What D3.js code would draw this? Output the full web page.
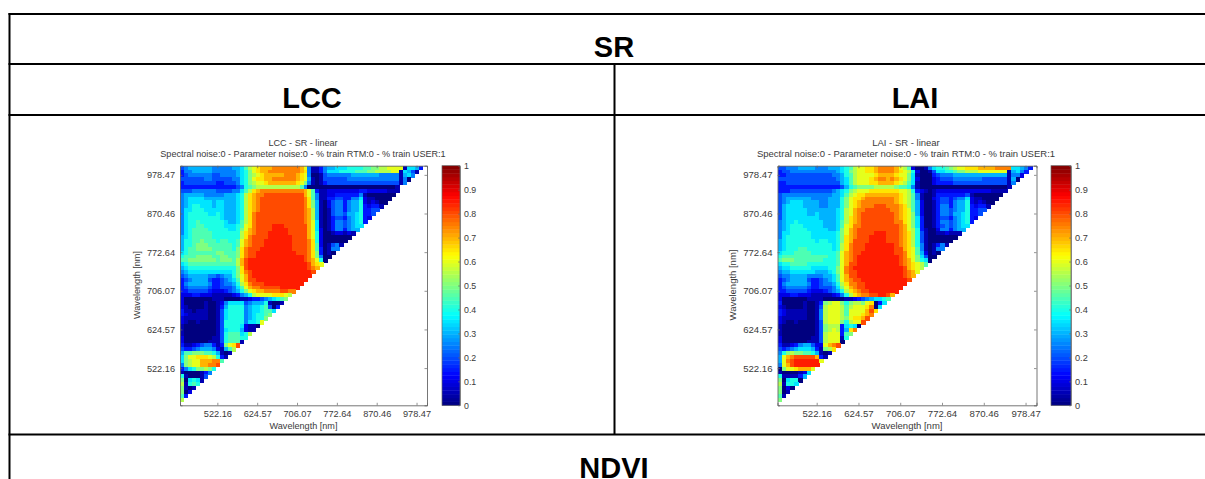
<!DOCTYPE html>
<html><head><meta charset="utf-8">
<script src="https://cdn.jsdelivr.net/npm/d3@7"></script>
<style>
html,body{margin:0;padding:0;background:#fff;overflow:hidden}
svg{display:block}
text{font-family:"Liberation Sans",Arial,sans-serif}
</style></head><body>
<svg id="c" width="1205" height="479"></svg>
<script>
// Wavelength tick labels sit on every tenth band of the 62-band matrix
const tickBands = [10, 20, 30, 40, 50, 60];
const tickLabels = ["522.16", "624.57", "706.07", "772.64", "870.46", "978.47"];
const colorbarTicks = [0, .1, .2, .3, .4, .5, .6, .7, .8, .9, 1];
const jetStops = [0, .125, .375, .625, .875, 1];
const jetColors = ["#00007f", "#0000ff", "#00ffff", "#ffff00", "#ff0000", "#7f0000"];
const sectionTitles = ["SR", "LCC", "LAI", "NDVI"];
// Rows run top to bottom, each char = R2 in steps of 0.05 (base 36: 0=0, a=.5, k=1)
const lccRows = [
"4566666655 5556679bcd eeefffffff ec51135667 7788889 9aa bbcccc1776 33",
"3556666655 5555678acd eeffffffff ed51135777 8888999aab bbbcc17641",
"3455555544 5555678abc deeeeefffe dc50014555 5556666666 55555 1675",
"4444445544 4445578acd deeffffffe dc61014444 4455555555 55555150",
"3444444443 3444578abc cdeeeeeeed ca51013444 4444444444 4444415",
"3333333333 3333458 9a bbbbbbbbbb b950000000 0000000000 000001",
"4445555554 4445579bde ffffffffff fec9311222 2222233222 22111",
"5666665555 566678bdef fggggggggg gec9511223 3333351000 0000",
"5677776666 6666 78bdef gggggggggg gfd9511334 4335572110 000",
"5677777767 7666 78bdef gggggggggg gfda610245 5356682121 00",
"5678877767 7666 78bdef gggggggggg gfda610245 5356683233 1",
"5778887777 7666 78bdef gggggggggg gfeb610145 5356683344",
"5788888778 7666 78bdfg gggggggggg gfeb610145 546678334",
"5788888888 7666 78bdfg gggggggggg gfeb610134 43567832",
"5788988888 8766 79bdfg gggggggggg gfec710135 5456783",
"5788998888 8777 89cdfg ggghhhgggg ggec710135 545677",
"5789999888 8877 8acefg ggghhhhggg ggec720135 53566",
"5789999988 8888 8bdefg gghhhhhggg ggec820012 2121",
"6789999988 8888 8bdfgg gghhhhhhgg ggec820000 000",
"6889 9a9998 9988 9cefgg ghhhhhhhgg ggfd820000 00",
"688 9aaa999 9998 9cefgg ghhhhhhhgg ggfd920145 1",
"6899aaaa99 9998 adfggg hhhhhhhhgg ggfd930155",
"789999999a a999 adfggh hhhhhhhhhg ggfda30 10",
"8999aaaa99 aa99 adfggh hhhhhhhhhh hgfda500",
"99aaaaaaa9 aaa9 beghhh hhhhhhhhhh hgfec80",
"7899999999 9999 beghhh hhhhhhhhhh hhgedc",
"6788888888 8888 adghhh hhhhhhhhhh hhgfe",
"5677777777 7778 adfghh hhhhhhhhhh hhhg",
"4566666554 5668 acegh h hhhhhhhhhh hhh",
"3456666433 4567 9ceggh hhhhhhhhhh hh",
"3566666533 4556 8bdfgg ghhhhhhhhh h",
"3455555433 4445 79cef f ggggghhhhh",
"3344444322 2345 68acde effffggff",
"2223322211 1112 3568bc cccdddcb9",
"2000000011 1000 01123 3 456789a",
"2000001001 2577 774566 681001",
"2100001001 3688 885677 89403",
"3110111001 4788 885677 8997",
"3211111001 4788 885678 89a",
"2111111001 4788 885678 8a",
"2100100001 4888 885778 c",
"1000000001 4888 872110",
"1000000001 4788 86211",
"1000000001 4899 9 78b",
"2000000011 4899 988",
"2000000111 4899 91",
"3112345531 3acd g",
"4334566652 169b",
"6 99aaa9986 101",
"7acc ddd cb8 31",
"7abccee eff9",
"5abcceeffg",
"35 78aaba8",
"10000135",
"8100014",
"a07871",
"b1898",
"a101",
"a02",
"93",
"b"
];
const laiRows = [
"4455566665 5566678 9bc cddeffffe cb9200 1578 89abccdddeee effff776 532",
"3445555555 5555678abc cddeffffed cb82001477 889aabbbcc ccccc16753",
"3344444444 4445568 9bc cccdeeeedc ca71000345 5566666666 666661552",
"4444444444 4444567 9bc ccdeffefed ca72000234 4455555554 4444416 0",
"3344444444 4444467 9bc ccddeeeedc b971000233 3344444444 4444415",
"3333333333 3333346 89a aaabbbbba9 9851000000 0000000000 000001",
"3334444444 4445678abc ccdddddddc cb83210122 2222222222 21111",
"4555555555 5556679bcd deeeeeeeed cb95100133 3333341000 0000",
"4566666655 556668acdd efffffffed cb95100234 4345572110 000",
"4567776666 556668acde ffffffffed cb96200134 4356682121 00",
"4677776666 556668acde fffgggfffe db96200135 5356683233 1",
"4677777666 666678bcef fggggggffe dc96200135 5456683344",
"4677777667 666678bcef ggggggggfe dca6200135 546678334",
"4677777777 666678bdef ggggggggfe dca7300134 43567832",
"5677877777 766679bdef ggggggggff dca7300135 5456783",
"5678887777 766679cdff gggggggggf eca7300134 545677",
"5678888777 77667acefg gggggggggf ecb8310025 53566",
"5778888877 77778acefg ggghhhgggf edb8410011 2111",
"5788888877 77778adefg gghhhhgggf edb8410000 000",
"6788888887 88778adegg gghhhhgggf edb8410000 00",
"6788888888 88878bdfgg ghhhhhhhgf edb8510135 1",
"6788899888 88878bdfgg ghhhhhhhgg edc9510155",
"7888999988 88889cefgg hhhhhhhhgg fdc9620 10",
"8999999999 99889cefgh hhhhhhhhhg fdca7400",
"9aaa999999 98889cefgh hhhhhhhhhg fec a870",
"7889999888 88889cegg h hhhhhhhhhg fedcb9",
"6778888877 7788acfghh hhhhhhhhhh gedcb",
"5667777776 6678acfggh hhhhhhhhhh gfec",
"4556666555 5667 9cegg h hhhhhhhhhh gfe",
"3456666433 4567 9cefgg hhhhhhhhhh hg",
"3566666533 4556 8bdffg ghhhhhhhhh h",
"3455555433 4445 7acefg ghhhhhhhhh",
"3344444322 2345 68bdef gghhhhhhh",
"2223322211 1112 358bde ffgghhge",
"2000000111 1000 00112 3 4567789",
"3000001001 3abc ca8abb acd037",
"2100001001 4bcc cb9bcc cdf07",
"3211111001 5bcc cb9ccc ceg d",
"3211111001 5bcc cb9ccc def",
"2111111001 5bcc cbacdd eg",
"2100100001 4bcc ca8bcc g",
"1000000001 4abb b37870",
"1000000001 4abc b36df",
"1000000001 4bcc c39a",
"2000000011 4bcc c18",
"2000000111 4bcc c0",
"3112356642 2cefg",
"4345677763 1abd",
"58aba a9986 101",
"6cefggggg e31",
"6cfghhhhhh c",
"5cegh hhhhh",
"0accdeeec",
"10000127",
"8111136",
"a07880",
"b1887",
"a020",
"a01",
"91",
"a"
];

const nBands = 62;
const levels = s => s.replace(/\s/g, "").split("").map(ch => parseInt(ch, 36) / 20);
const jet = d3.scaleLinear().domain(jetStops).range(jetColors).interpolate(d3.interpolateRgb);
const svg = d3.select("#c");

const panels = [
  {rows: lccRows, name: "LCC", x0: 180, x1: 427, cb0: 442, cb1: 460, titleX: 303, ylab: 137, sub: 9.1},
  {rows: laiRows, name: "LAI", x0: 777.5, x1: 1036.5, cb0: 1051, cb1: 1071, titleX: 906, ylab: 733, sub: 9.5}
];
const plotTop = 165.7, plotBottom = 405.3;
const grey = "#3a3a3a", axisGrey = "#666";

svg.append("defs").append("filter").attr("id", "soft").attr("x", "-2%").attr("y", "-2%").attr("width", "104%").attr("height", "104%")
  .append("feGaussianBlur").attr("stdDeviation", 0.7);

panels.forEach(p => {
  const g = svg.append("g");
  const bands = d3.range(nBands);
  const x = d3.scaleBand().domain(bands).range([p.x0, p.x1]);
  const y = d3.scaleBand().domain(bands).range([plotBottom, plotTop]);

  // heatmap: the row k from the top holds the bands left of the diagonal
  const cells = [];
  p.rows.forEach((row, k) => {
    const r = nBands - 1 - k;
    levels(row).slice(0, r).forEach((v, c) => cells.push({c, r, v}));
  });
  g.append("g").attr("filter", "url(#soft)").attr("shape-rendering", "crispEdges").selectAll("rect").data(cells).join("rect")
    .attr("x", d => x(d.c)).attr("y", d => y(d.r))
    .attr("width", x.bandwidth() + .4).attr("height", y.bandwidth() + .4)
    .attr("fill", d => jet(d.v));

  // axes through d3-axis, with the box on all four sides
  const tickIdx = tickBands.map(t => t - 1);
  const fmt = d => tickLabels[tickIdx.indexOf(d)];
  const mk = (gen, tx, ty, labels) => {
    const a = g.append("g").attr("transform", `translate(${tx},${ty})`)
      .call(gen.tickValues(tickIdx).tickFormat(labels ? fmt : "").tickSize(-2.5).tickPadding(labels ? 5 : 0));
    a.select(".domain").attr("stroke", axisGrey).attr("stroke-width", .9);
    a.selectAll(".tick line").attr("stroke", axisGrey).attr("stroke-width", .7);
    a.selectAll("text").attr("font-size", p.sub + .1).attr("fill", grey).attr("font-family", "Liberation Sans");
    return a;
  };
  mk(d3.axisBottom(x).tickSizeOuter(0), 0, plotBottom, true);
  mk(d3.axisTop(x).tickSizeOuter(0), 0, plotTop, false);
  mk(d3.axisLeft(y).tickSizeOuter(0), p.x0, 0, true);
  mk(d3.axisRight(y).tickSizeOuter(0), p.x1, 0, false);

  // titles
  const t = (txt, tx, ty, fs) => g.append("text").attr("x", tx).attr("y", ty)
    .attr("text-anchor", "middle").attr("font-size", fs).attr("fill", grey).text(txt);
  t(`${p.name} - SR - linear`, p.titleX, 146, p.sub);
  t("Spectral noise:0 - Parameter noise:0 - % train RTM:0 - % train USER:1", p.titleX, 157.3, p.sub);
  t("Wavelength [nm]", (p.x0 + p.x1) / 2, 428.5, p.sub);
  g.append("text").attr("transform", `translate(${p.ylab + 3},285) rotate(-90)`)
    .attr("text-anchor", "middle").attr("font-size", p.sub).attr("fill", grey).text("Wavelength [nm]");

  // colour bar
  const cb = d3.scaleLinear().domain([0, 1]).range([plotBottom, plotTop]);
  const steps = d3.range(64);
  g.append("g").selectAll("rect").data(steps).join("rect")
    .attr("x", p.cb0).attr("width", p.cb1 - p.cb0)
    .attr("y", i => cb((i + 1) / 64)).attr("height", (plotBottom - plotTop) / 64 + .4)
    .attr("fill", i => jet((i + .5) / 64));
  const ca = g.append("g").attr("transform", `translate(${p.cb1},0)`)
    .call(d3.axisRight(cb).tickValues(colorbarTicks).tickFormat(d => String(d)).tickSize(-2).tickSizeOuter(0).tickPadding(4));
  ca.select(".domain").attr("stroke", axisGrey).attr("stroke-width", .7);
  ca.selectAll(".tick line").attr("stroke", axisGrey).attr("stroke-width", .6);
  ca.selectAll("text").attr("font-size", p.sub - .3).attr("fill", grey).attr("font-family", "Liberation Sans");
  g.append("rect").attr("x", p.cb0).attr("y", plotTop).attr("width", p.cb1 - p.cb0).attr("height", plotBottom - plotTop)
    .attr("fill", "none").attr("stroke", axisGrey).attr("stroke-width", .7);
});

// surrounding table
const lineYs = [14, 64, 115, 434.5];
const line = (x1, y1, x2, y2) => svg.append("line").attr("x1", x1).attr("y1", y1).attr("x2", x2).attr("y2", y2)
  .attr("stroke", "#000").attr("stroke-width", 2);
lineYs.forEach(v => line(8.5, v, 1205, v));
line(9.5, 13, 9.5, 479);
line(614.5, 64, 614.5, 434);

const head = (txt, tx, ty) => svg.append("text").attr("x", tx).attr("y", ty).attr("text-anchor", "middle")
  .attr("font-size", 29).attr("font-weight", "bold").attr("fill", "#000").text(txt);
head(sectionTitles[0], 614, 57);
head(sectionTitles[1], 312, 108);
head(sectionTitles[2], 915, 108);
head(sectionTitles[3], 614, 478);
</script>
</body></html>
